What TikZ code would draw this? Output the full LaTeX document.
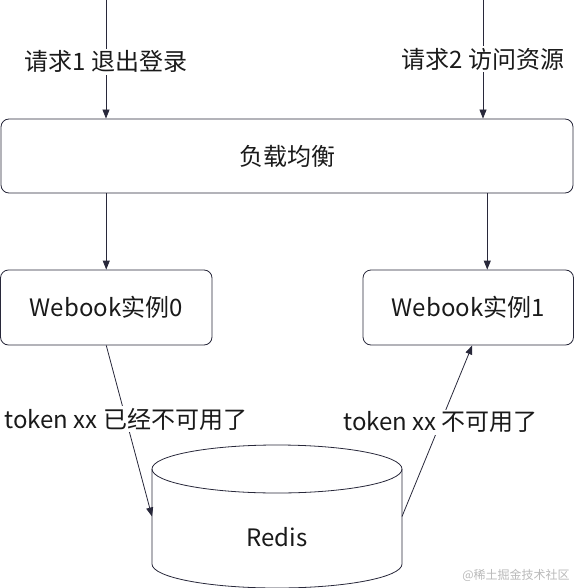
\documentclass[tikz,border=0pt]{standalone}
\usepackage{fontspec}
\setmainfont{Noto Sans CJK SC}
\usetikzlibrary{arrows.meta,calc}
\definecolor{lc}{RGB}{40,40,58}
\definecolor{tc}{RGB}{26,26,26}
\definecolor{wm}{RGB}{185,185,185}
\newcommand{\fsmain}{\fontsize{24}{28}\selectfont}
\begin{document}
\begin{tikzpicture}[x=1pt,y=-1pt,
  box/.style={draw=lc, line width=0.8pt, rounded corners=8pt, inner sep=0pt, text=tc, font=\fsmain},
  conn/.style={draw=lc, line width=0.8pt, -{Triangle[length=9pt,width=7pt]}},
  lbl/.style={fill=white, text=tc, font=\fsmain, inner sep=2pt}
]
\useasboundingbox (0,0) rectangle (574,588);

% top entry points
\coordinate (in1) at (106,0);
\coordinate (in2) at (483,0);

% load balancer
\node[box, minimum width=572pt, minimum height=74pt] (lb) at (287,156) {负载均衡};

% instances
\node[box, minimum width=211.5pt, minimum height=75pt] (w0) at (106.25,307.5) {Webook实例0};
\node[box, minimum width=210.5pt, minimum height=75pt] (w1) at (468.25,307.5) {Webook实例1};

% redis cylinder
\node[inner sep=0pt, outer sep=0pt, minimum width=250pt, minimum height=143pt] (rds) at (277,516.5) {};
\draw[lc, line width=0.8pt] (277,469) ellipse [x radius=125pt, y radius=24pt];
\draw[lc, line width=0.8pt] (152,469) -- (152,564)
  .. controls (152,577.25) and (207.96,588) .. (277,588)
  .. controls (346.04,588) and (402,577.25) .. (402,564) -- (402,469);
\node[text=tc, font=\fsmain] (rdslabel) at (277,537) {Redis};

% connectors
\draw[conn] (in1) -- node[lbl, pos=0.52] {请求1 退出登录} (in1 |- lb.north);
\draw[conn] (in2) -- node[lbl, pos=0.5] {请求2 访问资源} (in2 |- lb.north);
\draw[conn] (lb.south -| w0.north) -- (w0.north);
\coordinate (w1in) at ($(w1.north)+(19,0)$);
\draw[conn] (lb.south -| w1in) -- (w1in);
\draw[conn] (w0.south) -- node[lbl, pos=0.43] {token xx 已经不可用了} (rds.west);
\coordinate (w1out) at ($(w1.south)+(4,0)$);
\draw[conn] (rds.east) -- node[lbl, pos=0.55] {token xx 不可用了} (w1out);

% watermark
\node[text=wm, font=\fontsize{12}{14}\selectfont, inner sep=0pt] (wmk) at (516,575) {@稀土掘金技术社区};
\end{tikzpicture}
\end{document}
